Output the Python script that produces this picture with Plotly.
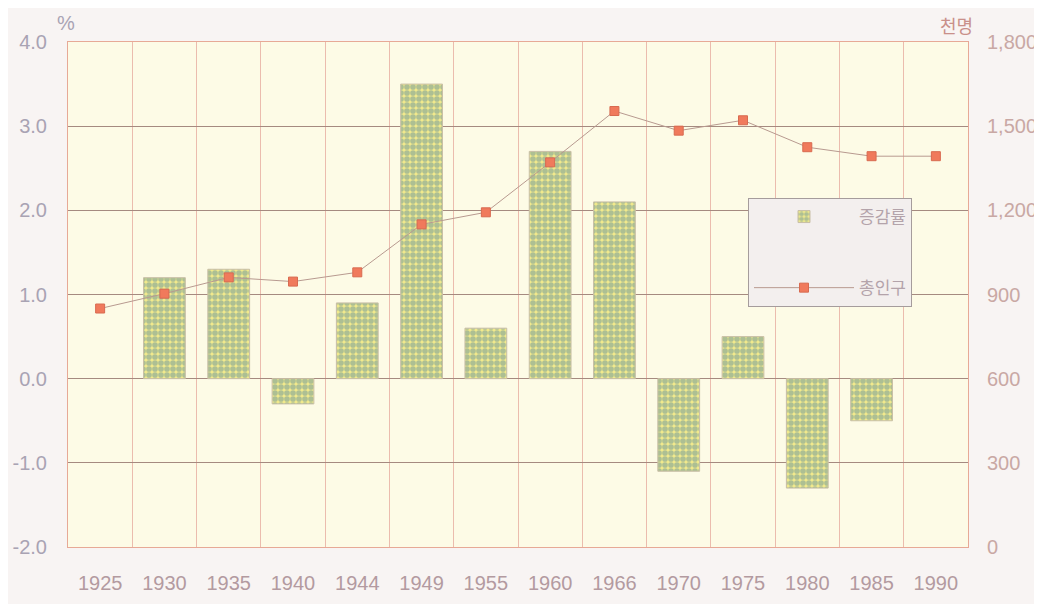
import plotly.graph_objects as go

# data
years = ["1925", "1930", "1935", "1940", "1944", "1949", "1955",
         "1960", "1966", "1970", "1975", "1980", "1985", "1990"]
growth_rate = [None, 1.2, 1.3, -0.3, 0.9, 3.5, 0.6,
               2.7, 2.1, -1.1, 0.5, -1.3, -0.5, None]  # %
population = [850, 903, 961, 946, 979, 1150, 1193,
              1371, 1554, 1484, 1521, 1425, 1393, 1393]  # thousand persons
pct_ticks = [-2, -1, 0, 1, 2, 3, 4]
pct_labels = ["-2.0", "-1.0", "0.0", "1.0", "2.0", "3.0", "4.0"]

NARROW = "Liberation Sans Narrow, Arial Narrow, Liberation Sans, sans-serif"
KR = "Noto Sans CJK KR, sans-serif"
LABEL = "#b39aa0"

# page has an 8px body margin, margins are set so the plot area lands at 68..968 x 42..547
W, H = 1042, 604
L, R, T, B = 60, 82, 34, 65

fig = go.Figure()

fig.add_trace(go.Bar(
    x=years, y=growth_rate, name="증감률",
    width=0.65,
    marker=dict(
        color="#f1e98c",
        line=dict(color="#c9bfa6", width=1),
        pattern=dict(shape=".", fgcolor="#6a9699", size=6, solidity=0.7),
    ),
    legendgroup="a",
))

fig.add_trace(go.Scatter(
    x=years, y=population, name="총인구", yaxis="y2",
    mode="lines+markers",
    line=dict(color="#b89a90", width=1),
    marker=dict(symbol="square", size=9, color="#f07a5c",
                line=dict(color="#d86a50", width=1)),
    legendgroup="b",
))

fig.update_layout(
    width=W, height=H,
    margin=dict(l=L, r=R, t=T, b=B, autoexpand=False),
    paper_bgcolor="#f8f4f3",
    plot_bgcolor="#fdfbe6",
    font=dict(family=NARROW, size=20, color=LABEL),
    xaxis=dict(
        type="category", tickson="boundaries", range=[-0.5, 13.5],
        automargin=False,
        showgrid=True, gridcolor="#ebbcae", gridwidth=1,
        showline=True, linecolor="#e7a996", mirror=True,
        ticks="", ticklabelstandoff=18,
        tickfont=dict(family=NARROW, size=20, color=LABEL),
    ),
    yaxis=dict(
        range=[-2, 4], tickvals=pct_ticks, ticktext=pct_labels,
        automargin=False,
        showgrid=True, gridcolor="#a58a80", gridwidth=1,
        zeroline=False,
        showline=True, linecolor="#e7a996", mirror=True,
        ticks="", ticklabelstandoff=16,
        tickfont=dict(family=NARROW, size=20, color="#a9a3b3"),
    ),
    yaxis2=dict(
        range=[0, 1800], dtick=300, tickformat=",",
        automargin=False,
        overlaying="y", side="right",
        showgrid=False, zeroline=False, ticks="",
        ticklabelstandoff=18,
        tickfont=dict(family=NARROW, size=20, color="#c9a8a4"),
    ),
    legend=dict(
        xanchor="left", yanchor="top",
        bgcolor="#f3efee", bordercolor="#a59c9c", borderwidth=1,
        font=dict(family=KR, size=17, color="#b3a3aa"),
        tracegroupgap=46, itemwidth=100,
    ),
)

pw = W - L - R
ph = H - T - B


def px_x(x):
    return (x - 8 - L) / pw


def px_y(y):
    return (H - B + 8 - y) / ph


fig.update_layout(legend=dict(x=px_x(748), y=px_y(198)))
fig.add_annotation(text="%", x=px_x(66), y=px_y(23), xref="paper", yref="paper",
                   xanchor="center", yanchor="middle", showarrow=False,
                   font=dict(family=NARROW, size=20, color="#a9a3b3"))
fig.add_annotation(text="천명", x=px_x(956), y=px_y(25), xref="paper", yref="paper",
                   xanchor="center", yanchor="middle", showarrow=False,
                   font=dict(family=KR, size=18, color="#c9908a"))

fig.write_html("out.html")
